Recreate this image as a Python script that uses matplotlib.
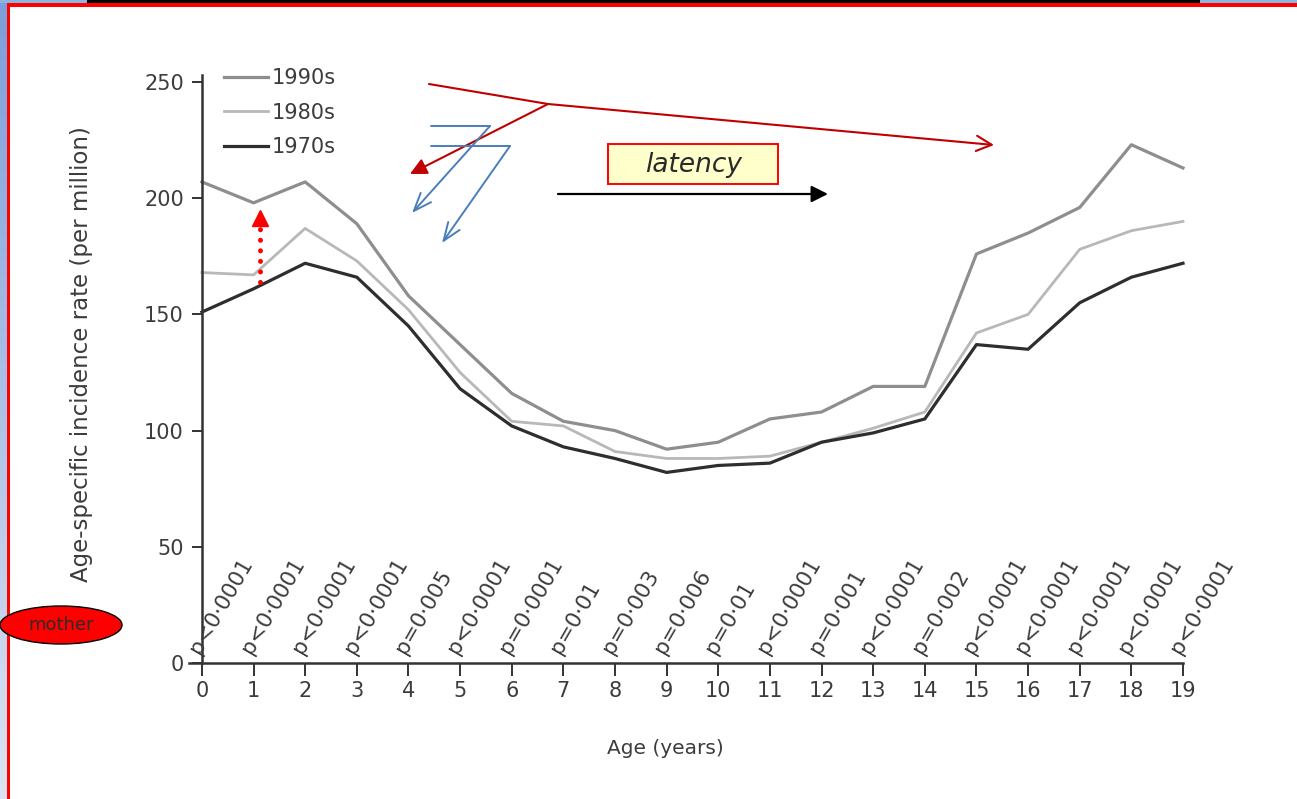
import numpy as np
import matplotlib
matplotlib.use("Agg")
import matplotlib.pyplot as plt
from matplotlib import patches

# Age-specific incidence rate per million, by decade of diagnosis
ages = list(range(20))
rate_1990s = [207, 198, 207, 189, 158, 137, 116, 104, 100, 92, 95, 105, 108, 119, 119, 176, 185, 196, 223, 213]
rate_1980s = [168, 167, 187, 173, 152, 125, 104, 102, 91, 88, 88, 89, 95, 101, 108, 142, 150, 178, 186, 190]
rate_1970s = [151, 161, 172, 166, 145, 118, 102, 93, 88, 82, 85, 86, 95, 99, 105, 137, 135, 155, 166, 172]

p_values = ["p<0·0001", "p<0·0001", "p<0·0001", "p<0·0001", "p=0·005",
            "p<0·0001", "p=0·0001", "p=0·01", "p=0·003", "p=0·006",
            "p=0·01", "p<0·0001", "p=0·001", "p<0·0001", "p=0·002",
            "p<0·0001", "p<0·0001", "p<0·0001", "p<0·0001", "p<0·0001"]

y_ticks = [0, 50, 100, 150, 200, 250]
series_labels = ["1990s", "1980s", "1970s"]

W, H = 1297, 799
TXT = "#3c3c3c"


def fx(x):
    return x / W


def fy(y):
    return 1 - y / H


fig = plt.figure(figsize=(W / 100, H / 100), dpi=100)
fig.patch.set_facecolor("white")

# plot area: x=-0.25..19 -> px 189..1183, y=0..253 -> px 663..75
x0, x1 = 189, 1183
y0, y1 = 663, 75
ax = fig.add_axes([fx(x0), fy(y0), (x1 - x0) / W, (y0 - y1) / H])
ax.set_xlim(-0.25, 19)
ax.set_ylim(0, 253)
ax.patch.set_alpha(0)

for s in ["top", "right"]:
    ax.spines[s].set_visible(False)
ax.spines["left"].set_position(("data", 0))
ax.spines["left"].set_bounds(0, 253)
for s in ["left", "bottom"]:
    ax.spines[s].set_color("#333333")
    ax.spines[s].set_linewidth(1.8)

ax.set_xticks(ages)
ax.set_yticks(y_ticks)
ax.tick_params(axis="x", direction="out", length=9, width=1.4, pad=4,
               labelsize=15, labelcolor=TXT, color="#333333")
ax.tick_params(axis="y", direction="out", length=7, width=1.4, pad=6,
               labelsize=15, labelcolor=TXT, color="#333333")

l90, = ax.plot(ages, rate_1990s, color="#8e8e8e", lw=2.3, clip_on=False)
l80, = ax.plot(ages, rate_1980s, color="#b8b8b8", lw=2.0, clip_on=False)
l70, = ax.plot(ages, rate_1970s, color="#2e2e2e", lw=2.3, clip_on=False)

ax.legend([l90, l80, l70], series_labels, loc="upper left",
          bbox_to_anchor=(fx(224), fy(68)), bbox_transform=fig.transFigure,
          frameon=False, fontsize=15, handlelength=2.1, handletextpad=0.2,
          labelspacing=0.7, borderpad=0, borderaxespad=0, labelcolor=TXT)

# p-values for each year of age, slanted along the axis
for a, p in zip(ages, p_values):
    ax.text(a + 0.02, 2.5, p, rotation=60, rotation_mode="anchor",
            ha="left", va="bottom", fontsize=15.5, color=TXT)

fig.text(fx(665), fy(748), "Age (years)", ha="center", va="center",
         fontsize=14.5, color=TXT)
fig.text(fx(82), fy(354), "Age-specific incidence rate (per million)",
         rotation=90, ha="center", va="center", fontsize=16.5, color=TXT)

# red dotted arrow between 1970s and 1990s at age 1
ax.plot([1.12, 1.12], [164, 190], color="red", lw=3.6,
        linestyle=(0, (0.01, 2.1)), dash_capstyle="round", clip_on=False)
ax.plot(1.12, 191.5, marker="^", color="red", ms=12, clip_on=False)


# annotation arrows in figure pixels
def arrow(p, q, color, style, lw, scale=10):
    ax.annotate("", xy=(fx(q[0]), fy(q[1])), xytext=(fx(p[0]), fy(p[1])),
                xycoords="figure fraction", textcoords="figure fraction",
                arrowprops=dict(arrowstyle=style, color=color, lw=lw,
                                shrinkA=0, shrinkB=0, mutation_scale=scale))


dark_red = "#c00000"
blue = "#4a7ebb"
arrow((429, 84), (548, 104), dark_red, "-", 1.5)
arrow((548, 104), (994, 145), dark_red, "->,head_length=1.1,head_width=0.55", 1.5)
arrow((548, 104), (410, 174), dark_red, "-|>,head_length=1.0,head_width=0.5", 1.5)

arrow((431, 126), (490, 126), blue, "-", 1.4)
arrow((490, 126), (412, 213), blue, "->,head_length=1.3,head_width=0.5", 1.4)
arrow((431, 146), (510, 146), blue, "-", 1.4)
arrow((510, 146), (442, 243), blue, "->,head_length=1.3,head_width=0.5", 1.4)

arrow((558, 194), (828, 194), "black", "-|>,head_length=1.0,head_width=0.5", 1.6)

# latency label box
fig.add_artist(patches.Rectangle((fx(608), fy(184)), 170 / W, 40 / H,
                                 transform=fig.transFigure, facecolor="#ffffcc",
                                 edgecolor="red", lw=1.4))
fig.text(fx(694), fy(165), "latency", ha="center", va="center", fontsize=19,
         style="italic", color="#2a2a2a")

# slide frame: blue strip, red rules, dark bar at the top
strip = fig.add_axes([0, 0, 7 / W, 1])
grad = np.linspace(0, 1, 200).reshape(-1, 1)
top_c = np.array([124, 158, 218]) / 255
bot_c = np.array([220, 228, 243]) / 255
strip.imshow(top_c + (bot_c - top_c) * grad[:, :, None],
             aspect="auto", extent=[0, 1, 0, 1])
strip.axis("off")
fig.add_artist(patches.Rectangle((0, fy(2.5)), 1, 2.5 / H, transform=fig.transFigure,
                                 facecolor="#8db3e2", edgecolor="none"))
fig.add_artist(patches.Rectangle((fx(87), fy(2.5)), (1200 - 87) / W, 2.5 / H,
                                 transform=fig.transFigure, facecolor="black",
                                 edgecolor="none"))
fig.add_artist(patches.Rectangle((fx(7), fy(6.5)), 1, 4 / H, transform=fig.transFigure,
                                 facecolor="red", edgecolor="none"))
fig.add_artist(patches.Rectangle((fx(7), 0), 3 / W, fy(2.5), transform=fig.transFigure,
                                 facecolor="red", edgecolor="none"))

# "mother" tag on the left edge
fig.add_artist(patches.Ellipse((fx(61), fy(625)), 122 / W, 38 / H,
                               transform=fig.transFigure, facecolor="red",
                               edgecolor="black", lw=1.0, zorder=5))
fig.text(fx(61), fy(625), "mother", ha="center", va="center", fontsize=13,
         color="#2b2b2b", zorder=6)

fig.savefig("out.png", dpi=100)
